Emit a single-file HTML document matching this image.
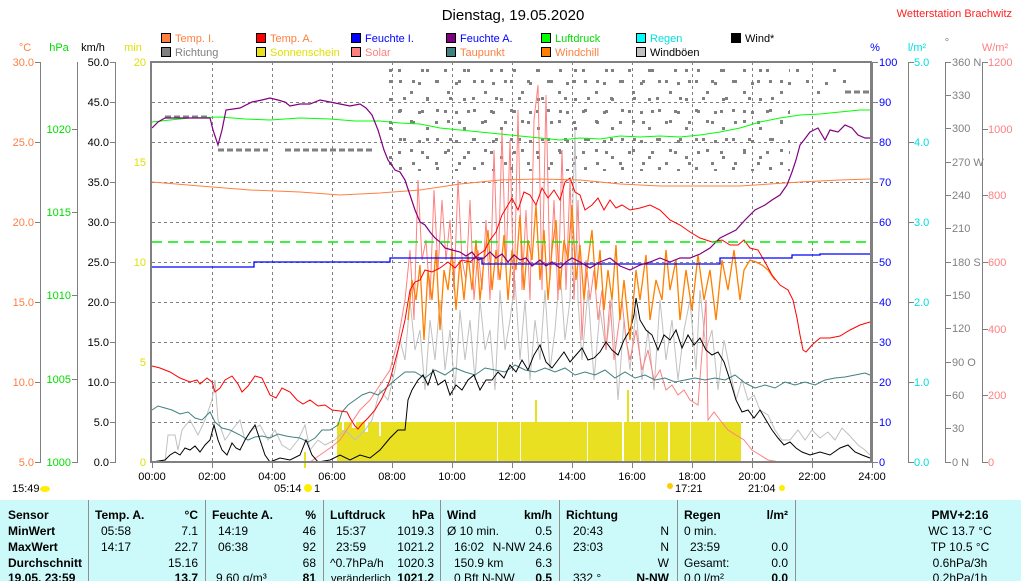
<!DOCTYPE html>
<html><head><meta charset="utf-8">
<style>
html,body{margin:0;padding:0;background:#fff;width:1021px;height:581px;overflow:hidden}
svg{display:block;font-family:"Liberation Sans",Arial,sans-serif}
</style></head><body>
<svg width="1021" height="581" viewBox="0 0 1021 581" xmlns="http://www.w3.org/2000/svg">
<defs>
<pattern id="d1" x="0" y="0" width="37" height="29" patternUnits="userSpaceOnUse">
<rect x="3" y="4" width="3" height="3" fill="#808080"/><rect x="19" y="11" width="3" height="3" fill="#808080"/><rect x="29" y="22" width="3" height="3" fill="#808080"/><rect x="11" y="24" width="3" height="3" fill="#808080"/></pattern>
<pattern id="d2" x="5" y="9" width="23" height="41" patternUnits="userSpaceOnUse">
<rect x="7" y="6" width="3" height="3" fill="#808080"/><rect x="16" y="30" width="3" height="3" fill="#808080"/><rect x="2" y="19" width="3" height="3" fill="#808080"/></pattern>
</defs>
<rect width="1021" height="581" fill="#fff"/>
<text x="513" y="20" font-size="15" text-anchor="middle">Dienstag, 19.05.2020</text>
<text x="1012" y="17" font-size="11" fill="#ff2020" text-anchor="end">Wetterstation Brachwitz</text>
<g font-size="11">
<rect x="161.5" y="33.5" width="9" height="9" fill="#ff8040" stroke="#000"/><text x="175" y="42" fill="#ff8040">Temp. I.</text>
<rect x="256.5" y="33.5" width="9" height="9" fill="#ff0000" stroke="#000"/><text x="270" y="42" fill="#ff8040">Temp. A.</text>
<rect x="351.5" y="33.5" width="9" height="9" fill="#0000ff" stroke="#000"/><text x="365" y="42" fill="#0000ff">Feuchte I.</text>
<rect x="446.5" y="33.5" width="9" height="9" fill="#800080" stroke="#000"/><text x="460" y="42" fill="#0000ff">Feuchte A.</text>
<rect x="541.5" y="33.5" width="9" height="9" fill="#00ff00" stroke="#000"/><text x="555" y="42" fill="#00dd00">Luftdruck</text>
<rect x="636.5" y="33.5" width="9" height="9" fill="#00ffff" stroke="#000"/><text x="650" y="42" fill="#00e0e0">Regen</text>
<rect x="731.5" y="33.5" width="9" height="9" fill="#000" stroke="#000"/><text x="745" y="42">Wind*</text>
<rect x="161.5" y="47.5" width="9" height="9" fill="#808080" stroke="#000"/><text x="175" y="56" fill="#808080">Richtung</text>
<rect x="256.5" y="47.5" width="9" height="9" fill="#e8e020" stroke="#000"/><text x="270" y="56" fill="#e0e000">Sonnenschein</text>
<rect x="351.5" y="47.5" width="9" height="9" fill="#ff8080" stroke="#000"/><text x="365" y="56" fill="#ff8080">Solar</text>
<rect x="446.5" y="47.5" width="9" height="9" fill="#408080" stroke="#000"/><text x="460" y="56" fill="#ff8040">Taupunkt</text>
<rect x="541.5" y="47.5" width="9" height="9" fill="#ff8000" stroke="#000"/><text x="555" y="56" fill="#ff8040">Windchill</text>
<rect x="636.5" y="47.5" width="9" height="9" fill="#c0c0c0" stroke="#000"/><text x="650" y="56">Windböen</text>
<text x="25" y="51" fill="#ff8040" text-anchor="middle">°C</text>
<text x="59" y="51" fill="#00dd00" text-anchor="middle">hPa</text>
<text x="93" y="51" text-anchor="middle">km/h</text>
<text x="133" y="51" fill="#e0e000" text-anchor="middle">min</text>
<text x="875" y="51" fill="#0000ff" text-anchor="middle">%</text>
<text x="917" y="51" fill="#00e0e0" text-anchor="middle">l/m²</text>
<text x="947" y="46" fill="#808080" text-anchor="middle">°</text>
<text x="995" y="51" fill="#ff8080" text-anchor="middle">W/m²</text>
</g>
<!-- axes -->
<g stroke="#808080" fill="none">
<path d="M40.5 62V462M77.5 62V462M115.5 62V462M872.5 62V462M908.5 62V462M945.5 62V462M982.5 62V462"/>
<path d="M35 62.5h6M35 142.5h6M35 222.5h6M35 302.5h6M35 382.5h6M35 462.5h6"/>
<path d="M72 129.5h6M72 212.5h6M72 295.5h6M72 379.5h6M72 462.5h6"/>
<path d="M110 62.5h6M110 102.5h6M110 142.5h6M110 182.5h6M110 222.5h6M110 262.5h6M110 302.5h6M110 342.5h6M110 382.5h6M110 422.5h6M110 462.5h6"/>
<path d="M872 62.5h6M872 102.5h6M872 142.5h6M872 182.5h6M872 222.5h6M872 262.5h6M872 302.5h6M872 342.5h6M872 382.5h6M872 422.5h6M872 462.5h6"/>
<path d="M908 62.5h6M908 142.5h6M908 222.5h6M908 302.5h6M908 382.5h6M908 462.5h6"/>
<path d="M945 62.5h6M945 95.5h6M945 128.5h6M945 162.5h6M945 195.5h6M945 228.5h6M945 262.5h6M945 295.5h6M945 328.5h6M945 362.5h6M945 395.5h6M945 428.5h6M945 462.5h6"/>
<path d="M982 62.5h6M982 129.5h6M982 195.5h6M982 262.5h6M982 329.5h6M982 395.5h6M982 462.5h6"/>
</g>
<g font-size="11">
<g fill="#ff8040" text-anchor="end"><text x="34" y="66">30.0</text><text x="34" y="146">25.0</text><text x="34" y="226">20.0</text><text x="34" y="306">15.0</text><text x="34" y="386">10.0</text><text x="34" y="466">5.0</text></g>
<g fill="#00dd00" text-anchor="end"><text x="71" y="133">1020</text><text x="71" y="216">1015</text><text x="71" y="299">1010</text><text x="71" y="383">1005</text><text x="71" y="466">1000</text></g>
<g text-anchor="end"><text x="109" y="66">50.0</text><text x="109" y="106">45.0</text><text x="109" y="146">40.0</text><text x="109" y="186">35.0</text><text x="109" y="226">30.0</text><text x="109" y="266">25.0</text><text x="109" y="306">20.0</text><text x="109" y="346">15.0</text><text x="109" y="386">10.0</text><text x="109" y="426">5.0</text><text x="109" y="466">0.0</text></g>
<g fill="#e0e000" text-anchor="end"><text x="146" y="66">20</text><text x="146" y="166">15</text><text x="146" y="266">10</text><text x="146" y="366">5</text><text x="146" y="466">0</text></g>
<g fill="#0000ff"><text x="879" y="66">100</text><text x="879" y="106">90</text><text x="879" y="146">80</text><text x="879" y="186">70</text><text x="879" y="226">60</text><text x="879" y="266">50</text><text x="879" y="306">40</text><text x="879" y="346">30</text><text x="879" y="386">20</text><text x="879" y="426">10</text><text x="879" y="466">0</text></g>
<g fill="#00e0e0"><text x="914" y="66">5.0</text><text x="914" y="146">4.0</text><text x="914" y="226">3.0</text><text x="914" y="306">2.0</text><text x="914" y="386">1.0</text><text x="914" y="466">0.0</text></g>
<g fill="#808080"><text x="952" y="66">360 N</text><text x="952" y="99">330</text><text x="952" y="132">300</text><text x="952" y="166">270 W</text><text x="952" y="199">240</text><text x="952" y="232">210</text><text x="952" y="266">180 S</text><text x="952" y="299">150</text><text x="952" y="332">120</text><text x="952" y="366">90 O</text><text x="952" y="399">60</text><text x="952" y="432">30</text><text x="952" y="466">0 N</text></g>
<g fill="#ff8080"><text x="988" y="66">1200</text><text x="988" y="133">1000</text><text x="988" y="199">800</text><text x="988" y="266">600</text><text x="988" y="333">400</text><text x="988" y="399">200</text><text x="988" y="466">0</text></g>
</g>
<!-- grid -->
<g stroke="#808080" stroke-dasharray="3,3" fill="none">
<path d="M212.5 62V462M272.5 62V462M332.5 62V462M392.5 62V462M452.5 62V462M512.5 62V462M572.5 62V462M632.5 62V462M692.5 62V462M752.5 62V462M812.5 62V462"/>
<path d="M152 102.5H870M152 142.5H870M152 182.5H870M152 222.5H870M152 262.5H870M152 302.5H870M152 342.5H870M152 382.5H870M152 422.5H870"/>
</g>
<!-- direction dots -->
<rect x="385" y="66" width="405" height="105" fill="url(#d1)"/>
<rect x="385" y="66" width="405" height="100" fill="url(#d2)"/>
<rect x="790" y="66" width="60" height="32" fill="url(#d1)"/>
<path d="M165 117h45M218 150h50M285 150h90M845 92h25" stroke="#808080" stroke-width="3" stroke-dasharray="6,3" fill="none"/>
<!-- sunshine -->
<rect x="337" y="422" width="404" height="40" fill="#e8e020"/>
<path d="M342 422h2v8h-2zM352 422h4v6h-4zM365 422h3v10h-3zM379 422h2v14h-2z" fill="#fff"/>
<path d="M455 422h1v40h-1zM497 422h1v40h-1zM520 422h1v40h-1zM587 422h1v40h-1zM622 422h2v40h-2zM640 422h1v40h-1zM655 422h1v40h-1zM668 422h2v40h-2zM690 422h1v40h-1zM715 422h1v40h-1z" fill="#fff"/>
<rect x="304" y="452" width="2" height="16" fill="#e8e020"/><rect x="627" y="390" width="2" height="72" fill="#e8e020"/><rect x="535" y="400" width="2" height="62" fill="#e8e020"/>
<g fill="none" stroke-width="1">
<!-- gusts -->
<polyline stroke="#c0c0c0" points="152,462 165,462 168,435 175,435 178,450 182,430 190,420 198,435 205,420 212,400 215,380 218,420 225,440 232,430 240,420 245,440 252,430 260,425 268,440 275,430 282,445 290,450 298,440 305,425 310,450 318,440 325,445 335,440 345,430 355,440 365,430 372,420 380,390 388,400 395,370 400,340 405,360 410,300 415,350 420,330 425,390 430,320 435,360 440,300 445,370 450,330 455,390 460,310 465,360 470,320 475,380 480,300 485,350 490,330 495,390 500,290 505,350 510,320 515,280 520,360 525,300 530,380 535,320 540,360 545,290 550,370 555,330 560,270 565,340 570,300 575,130 578,300 582,360 588,290 594,380 600,310 606,350 612,300 618,400 624,320 630,370 636,310 642,380 648,330 654,390 660,300 666,360 672,320 678,380 684,330 690,300 696,370 700,290 706,350 712,330 718,390 724,340 730,370 736,400 742,380 748,400 754,395 760,410 768,415 775,430 782,440 790,440 798,430 805,440 812,430 820,438 828,432 835,440 842,428 850,436 858,445 865,450 870,455"/>
<!-- solar -->
<polyline stroke="#ff8080" points="152,462 310,462 320,455 330,448 340,440 350,425 360,410 370,400 380,385 390,370 398,340 405,300 410,250 414,320 418,180 422,260 426,240 430,300 434,190 438,270 442,200 446,260 450,220 454,290 458,180 462,260 466,280 470,200 474,300 478,250 482,290 486,220 490,300 494,150 498,280 502,130 506,270 510,140 514,300 518,110 522,290 526,210 530,300 534,120 538,85 542,290 546,95 550,280 554,200 558,300 562,150 566,290 570,180 574,300 578,200 582,340 586,260 590,300 594,270 598,320 602,290 606,350 610,300 614,360 618,330 622,300 626,340 630,360 636,330 642,370 648,350 654,380 660,370 666,390 672,385 678,395 684,390 690,400 698,405 706,300 708,420 714,412 720,420 728,430 736,435 744,440 752,450 760,455 768,460 780,462 870,462"/>
<!-- dewpoint -->
<polyline stroke="#408080" points="152,410 158,406 165,408 172,410 180,414 188,412 195,418 202,420 210,412 215,422 222,428 230,430 240,435 248,440 255,437 262,436 270,438 278,434 286,436 292,437 300,438 308,442 315,438 322,430 330,430 338,425 342,412 348,405 355,400 362,395 370,392 378,395 386,388 395,380 405,372 415,372 425,378 435,370 445,375 455,368 465,372 475,375 485,368 495,370 505,372 515,365 525,370 535,372 545,368 555,372 565,368 575,375 585,372 595,375 605,370 615,378 625,372 635,378 645,375 655,380 665,378 675,382 685,380 695,378 705,380 715,378 725,380 735,375 745,383 755,388 765,385 775,388 785,382 795,385 805,382 815,385 825,380 835,378 845,377 855,375 865,373 870,375"/>
<!-- wind -->
<polyline stroke="#000" points="152,462 165,460 170,455 175,452 180,455 185,448 190,450 195,446 200,452 205,445 210,440 214,425 218,440 222,450 227,455 232,443 236,448 240,450 245,440 250,432 255,425 260,440 265,455 270,462 280,458 290,460 300,455 306,440 312,455 318,462 330,460 340,455 350,460 360,455 370,458 380,450 390,438 398,430 405,430 408,400 412,390 418,380 423,375 428,385 433,370 438,385 445,380 450,395 456,385 462,390 468,380 474,375 480,390 486,380 492,380 498,372 504,378 510,365 516,372 522,360 528,370 534,355 540,345 546,362 552,368 558,360 564,352 570,362 576,355 582,348 588,360 594,358 600,352 606,342 612,350 618,355 624,340 630,330 634,315 636,298 640,320 646,330 652,335 658,350 664,335 670,340 676,330 682,348 688,335 694,345 700,338 706,350 712,355 718,352 724,362 730,380 736,400 742,412 748,410 754,418 760,410 766,420 772,430 778,438 784,445 790,442 796,448 802,452 810,455 820,452 830,455 840,448 848,445 855,452 862,455 870,458"/>
<!-- windchill -->
<polyline stroke="#ff8000" stroke-width="1.3" points="408,320 412,280 416,300 420,265 424,340 428,270 432,300 436,250 440,330 444,270 448,290 452,250 456,310 460,260 464,300 468,255 472,290 476,240 480,300 484,260 488,230 492,290 496,250 500,280 504,235 508,300 512,250 516,270 520,215 524,290 528,240 532,260 536,205 540,280 544,230 548,300 552,250 556,220 560,290 564,240 568,260 572,205 576,280 580,245 584,300 588,260 592,230 596,290 600,250 604,310 608,270 612,300 616,245 620,320 624,280 630,340 636,270 640,300 646,255 650,320 656,280 662,300 666,250 670,290 676,260 680,320 686,270 692,310 698,255 704,300 710,270 716,320 722,260 728,290 734,250 740,300 744,270 750,260 756,262 762,265 768,270 775,280"/>
<!-- temp A -->
<polyline stroke="#ff0000" points="152,366 160,368 170,372 180,378 190,382 197,380 200,384 207,378 212,382 215,392 220,388 225,380 232,376 238,384 242,392 248,386 255,376 262,378 270,395 276,398 282,388 290,392 297,400 303,404 310,400 318,406 325,405 332,410 340,411 347,412 350,418 355,426 358,429 362,424 368,418 375,410 382,398 390,380 398,350 405,320 410,290 415,282 420,280 425,270 432,272 440,268 448,262 455,268 462,260 470,262 478,255 485,250 490,240 496,232 502,215 508,205 512,198 518,210 524,192 530,195 536,205 542,188 548,198 554,190 560,200 565,182 570,178 575,192 580,195 585,210 592,205 598,198 604,210 610,200 616,208 622,205 630,210 640,208 650,205 660,210 670,220 680,225 690,232 700,238 712,242 722,240 730,245 738,245 744,240 750,248 758,250 765,262 772,275 780,285 788,290 793,300 797,318 800,335 803,350 806,352 812,345 820,338 830,338 840,336 850,330 860,325 870,322"/>
<!-- temp I -->
<polyline stroke="#ff8040" points="152,182 200,186 250,190 300,192 340,195 380,193 420,190 460,184 500,180 540,179 580,180 620,184 660,186 700,186 740,186 770,184 800,182 840,180 870,179"/>
<!-- pressure -->
<polyline stroke="#00ff00" points="152,122 170,120 190,118 220,117 245,119 270,120 300,118 330,119 355,121 380,121 400,123 420,124 440,128 460,130 480,132 500,134 520,136 540,138 560,140 580,138 600,139 620,136 640,137 660,136 680,137 700,135 720,132 740,128 760,122 780,118 800,115 820,114 840,112 860,110 870,110"/>
<!-- feuchte I -->
<polyline stroke="#0000ff" stroke-width="1.3" points="152,267 254,267 254,262 390,262 390,258 482,258 482,264 720,264 720,258 792,258 792,255 820,255 820,254 870,254"/>
<!-- feuchte A -->
<polyline stroke="#800080" stroke-width="1.2" points="152,128 158,122 165,118 180,118 200,118 210,118 213,130 218,145 222,130 226,110 240,108 252,102 262,100 270,98 278,100 285,102 290,106 300,104 310,104 320,100 330,102 340,104 350,106 360,104 366,108 372,115 378,130 384,150 388,160 395,170 400,172 405,180 410,195 415,210 420,222 425,225 430,232 435,238 440,242 445,248 452,250 460,252 466,256 472,252 478,260 484,258 490,252 496,258 502,254 508,262 514,255 520,260 526,258 532,266 540,260 546,266 552,262 560,268 566,262 572,258 580,262 590,268 600,262 610,258 620,266 630,270 640,265 650,262 660,258 670,262 680,258 690,258 700,254 710,248 720,238 728,234 736,230 745,220 755,210 765,205 772,200 780,195 787,185 792,172 796,160 800,145 804,140 810,132 818,128 825,140 830,130 838,132 845,125 852,128 858,135 865,138 870,138"/>
</g>
<line x1="152" y1="242" x2="870" y2="242" stroke="#00ee00" stroke-width="1.5" stroke-dasharray="10,6"/>
<!-- frame -->
<rect x="151" y="61" width="720" height="2" fill="#808080"/>
<rect x="150" y="61" width="2" height="402" fill="#808080"/>
<rect x="870" y="61" width="2" height="402" fill="#808080"/>
<rect x="150" y="461" width="722" height="2" fill="#808080"/>
<g stroke="#808080"><path d="M152.5 462v6M212.5 462v6M272.5 462v6M332.5 462v6M392.5 462v6M452.5 462v6M512.5 462v6M572.5 462v6M632.5 462v6M692.5 462v6M752.5 462v6M812.5 462v6M872.5 462v6"/></g>
<g font-size="11" text-anchor="middle"><text x="152" y="480">00:00</text><text x="212" y="480">02:00</text><text x="272" y="480">04:00</text><text x="332" y="480">06:00</text><text x="392" y="480">08:00</text><text x="452" y="480">10:00</text><text x="512" y="480">12:00</text><text x="572" y="480">14:00</text><text x="632" y="480">16:00</text><text x="692" y="480">18:00</text><text x="752" y="480">20:00</text><text x="812" y="480">22:00</text><text x="872" y="480">24:00</text></g>
<text x="12" y="492" font-size="11">15:49</text><ellipse cx="45" cy="489" rx="5" ry="3" fill="#ffee00"/>
<text x="274" y="492" font-size="11">05:14</text><circle cx="308" cy="488" r="4" fill="#ffee00"/><text x="314" y="492" font-size="11">1</text>
<text x="675" y="492" font-size="11">17:21</text><circle cx="670" cy="486" r="3" fill="#ffcc00"/>
<text x="748" y="492" font-size="11">21:04</text><circle cx="782" cy="488" r="3" fill="#ffee00"/>
<rect x="0" y="500" width="1021" height="81" fill="#ccfafa"/>
<g stroke="#909090" stroke-width="1"><line x1="88.5" y1="500" x2="88.5" y2="581"/><line x1="205.5" y1="500" x2="205.5" y2="581"/><line x1="323.5" y1="500" x2="323.5" y2="581"/><line x1="440.5" y1="500" x2="440.5" y2="581"/><line x1="559.5" y1="500" x2="559.5" y2="581"/><line x1="677.5" y1="500" x2="677.5" y2="581"/><line x1="795.5" y1="500" x2="795.5" y2="581"/></g>
<g font-size="12">
<g font-weight="bold"><text x="8" y="519">Sensor</text><text x="8" y="535">MinWert</text><text x="8" y="551">MaxWert</text><text x="8" y="567">Durchschnitt</text><text x="8" y="582">19.05. 23:59</text>
<text x="95" y="519">Temp. A.</text><text x="198" y="519" text-anchor="end">°C</text>
<text x="212" y="519">Feuchte A.</text><text x="316" y="519" text-anchor="end">%</text>
<text x="330" y="519">Luftdruck</text><text x="434" y="519" text-anchor="end">hPa</text>
<text x="447" y="519">Wind</text><text x="552" y="519" text-anchor="end">km/h</text>
<text x="566" y="519">Richtung</text>
<text x="684" y="519">Regen</text><text x="788" y="519" text-anchor="end">l/m²</text>
<text x="960" y="519" text-anchor="middle">PMV+2:16</text>
<text x="198" y="582" text-anchor="end">13.7</text><text x="316" y="582" text-anchor="end">81</text><text x="434" y="582" text-anchor="end">1021.2</text><text x="552" y="582" text-anchor="end">0.5</text><text x="669" y="582" text-anchor="end">N-NW</text><text x="788" y="582" text-anchor="end">0.0</text></g>
<text x="101" y="535">05:58</text><text x="198" y="535" text-anchor="end">7.1</text>
<text x="101" y="551">14:17</text><text x="198" y="551" text-anchor="end">22.7</text>
<text x="198" y="567" text-anchor="end">15.16</text>
<text x="218" y="535">14:19</text><text x="316" y="535" text-anchor="end">46</text>
<text x="218" y="551">06:38</text><text x="316" y="551" text-anchor="end">92</text>
<text x="316" y="567" text-anchor="end">68</text><text x="216" y="582">9.60 g/m³</text>
<text x="336" y="535">15:37</text><text x="434" y="535" text-anchor="end">1019.3</text>
<text x="336" y="551">23:59</text><text x="434" y="551" text-anchor="end">1021.2</text>
<text x="330" y="567">^0.7hPa/h</text><text x="434" y="567" text-anchor="end">1020.3</text><text x="331" y="582" font-size="11">veränderlich</text>
<text x="447" y="535">Ø 10 min.</text><text x="552" y="535" text-anchor="end">0.5</text>
<text x="454" y="551">16:02</text><text x="552" y="551" text-anchor="end">N-NW 24.6</text>
<text x="454" y="567">150.9 km</text><text x="552" y="567" text-anchor="end">6.3</text><text x="454" y="582">0 Bft N-NW</text>
<text x="573" y="535">20:43</text><text x="669" y="535" text-anchor="end">N</text>
<text x="573" y="551">23:03</text><text x="669" y="551" text-anchor="end">N</text>
<text x="669" y="567" text-anchor="end">W</text><text x="573" y="582">332 °</text>
<text x="684" y="535">0 min.</text>
<text x="690" y="551">23:59</text><text x="788" y="551" text-anchor="end">0.0</text>
<text x="684" y="567">Gesamt:</text><text x="788" y="567" text-anchor="end">0.0</text><text x="684" y="582">0.0 l/m²</text>
<text x="960" y="535" text-anchor="middle">WC 13.7 °C</text>
<text x="960" y="551" text-anchor="middle">TP 10.5 °C</text>
<text x="960" y="567" text-anchor="middle">0.6hPa/3h</text>
<text x="960" y="582" text-anchor="middle">0.2hPa/1h</text>
</g>
</svg>
</body></html>
